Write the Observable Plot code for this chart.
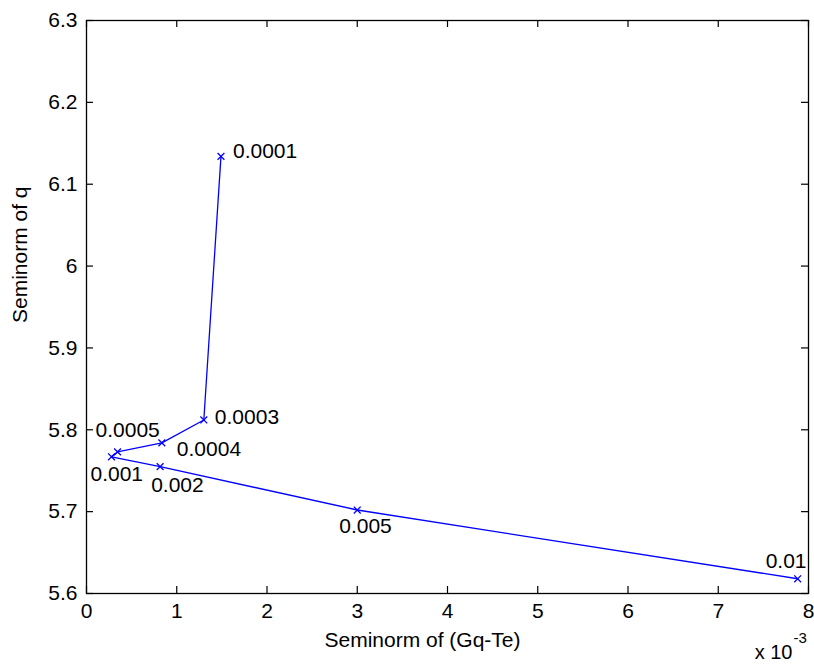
<!DOCTYPE html>
<html>
<head>
<meta charset="utf-8">
<script src="https://cdn.jsdelivr.net/npm/d3@7"></script>
<script src="https://cdn.jsdelivr.net/npm/@observablehq/plot@0.6"></script>
<style>
  html, body { margin: 0; padding: 0; background: #fff; }
  #chart svg { display: block; }
</style>
</head>
<body>
<div id="chart"></div>
<script>
// Data (x in units of 1e-3)
const lambdas = ["0.0001", "0.0003", "0.0004", "0.0005", "0.001", "0.002", "0.005", "0.01"];
const seminormGqTe = [1.49, 1.30, 0.835, 0.344, 0.277, 0.816, 3.00, 7.88];
const seminormQ = [6.134, 5.812, 5.784, 5.773, 5.767, 5.755, 5.702, 5.618];
const xTicks = [0, 1, 2, 3, 4, 5, 6, 7, 8];
const yTicks = [5.6, 5.7, 5.8, 5.9, 6.0, 6.1, 6.2, 6.3];

// label placement relative to each marker (style, not data)
const labelDx = [12, 11, 15, -22, -21, -9, -18, -32];
const labelDy = [-5, -3, 6, -22, 17, 19, 16, -18];

const points = lambdas.map((l, i) => ({lambda: l, x: seminormGqTe[i], y: seminormQ[i], dx: labelDx[i], dy: labelDy[i]}));

const font = "'Liberation Sans', Arial, Helvetica, sans-serif";

const W = 814, H = 664, ML = 86, MR = 6, MT = 20, MB = 71;
const frameW = W - ML - MR, frameH = H - MT - MB, TICK = 7;

const labelMarks = points.map(p => Plot.text([p], {
  x: "x", y: "y", text: "lambda",
  dx: p.dx, dy: p.dy,
  textAnchor: "start", lineAnchor: "middle",
  fill: "black", fontSize: 21
}));

const chart = Plot.plot({
  width: W,
  height: H,
  marginLeft: ML,
  marginRight: MR,
  marginTop: MT,
  marginBottom: MB,
  style: {fontFamily: font, fontSize: "21px", background: "white", color: "black"},
  x: {domain: [0, 8], ticks: xTicks},
  y: {domain: [5.6, 6.3], ticks: yTicks},
  marks: [
    // inward ticks on all four sides
    Plot.ruleX(xTicks, {x: d => d, insetTop: frameH - TICK, stroke: "black", strokeWidth: 1.2}),
    Plot.ruleX(xTicks, {x: d => d, insetBottom: frameH - TICK, stroke: "black", strokeWidth: 1.2}),
    Plot.ruleY(yTicks, {y: d => d, insetRight: frameW - TICK, stroke: "black", strokeWidth: 1.2}),
    Plot.ruleY(yTicks, {y: d => d, insetLeft: frameW - TICK, stroke: "black", strokeWidth: 1.2}),
    Plot.frame({stroke: "black", strokeWidth: 1.3}),
    Plot.axisX(xTicks, {anchor: "bottom", tickSize: 0, tickPadding: 10, label: null, tickFormat: d => String(d), fontSize: 21}),
    Plot.axisY(yTicks, {anchor: "left", tickSize: 0, tickPadding: 9, label: null, tickFormat: d => String(+d.toFixed(1)), fontSize: 21}),
    Plot.line(points, {x: "x", y: "y", stroke: "#0000ff", strokeWidth: 1.3}),
    Plot.dot(points, {x: "x", y: "y", symbol: "times", r: 3.2, stroke: "#0000ff", strokeWidth: 1.3}),
    ...labelMarks,
    Plot.text(["Seminorm of (Gq-Te)"], {frameAnchor: "bottom", dx: -25, dy: 47, lineAnchor: "middle", fontSize: 21, fill: "black"}),
    Plot.text(["Seminorm of q"], {frameAnchor: "left", dx: -66, dy: 16, rotate: -90, lineAnchor: "middle", fontSize: 21, fill: "black"}),
    Plot.text(["x 10"], {frameAnchor: "bottom-right", dx: -16, dy: 59, textAnchor: "end", lineAnchor: "middle", fontSize: 20, fill: "black"}),
    Plot.text(["-3"], {frameAnchor: "bottom-right", dx: -15, dy: 45, textAnchor: "start", lineAnchor: "middle", fontSize: 15, fill: "black"})
  ]
});
document.getElementById("chart").appendChild(chart);
</script>
</body>
</html>
